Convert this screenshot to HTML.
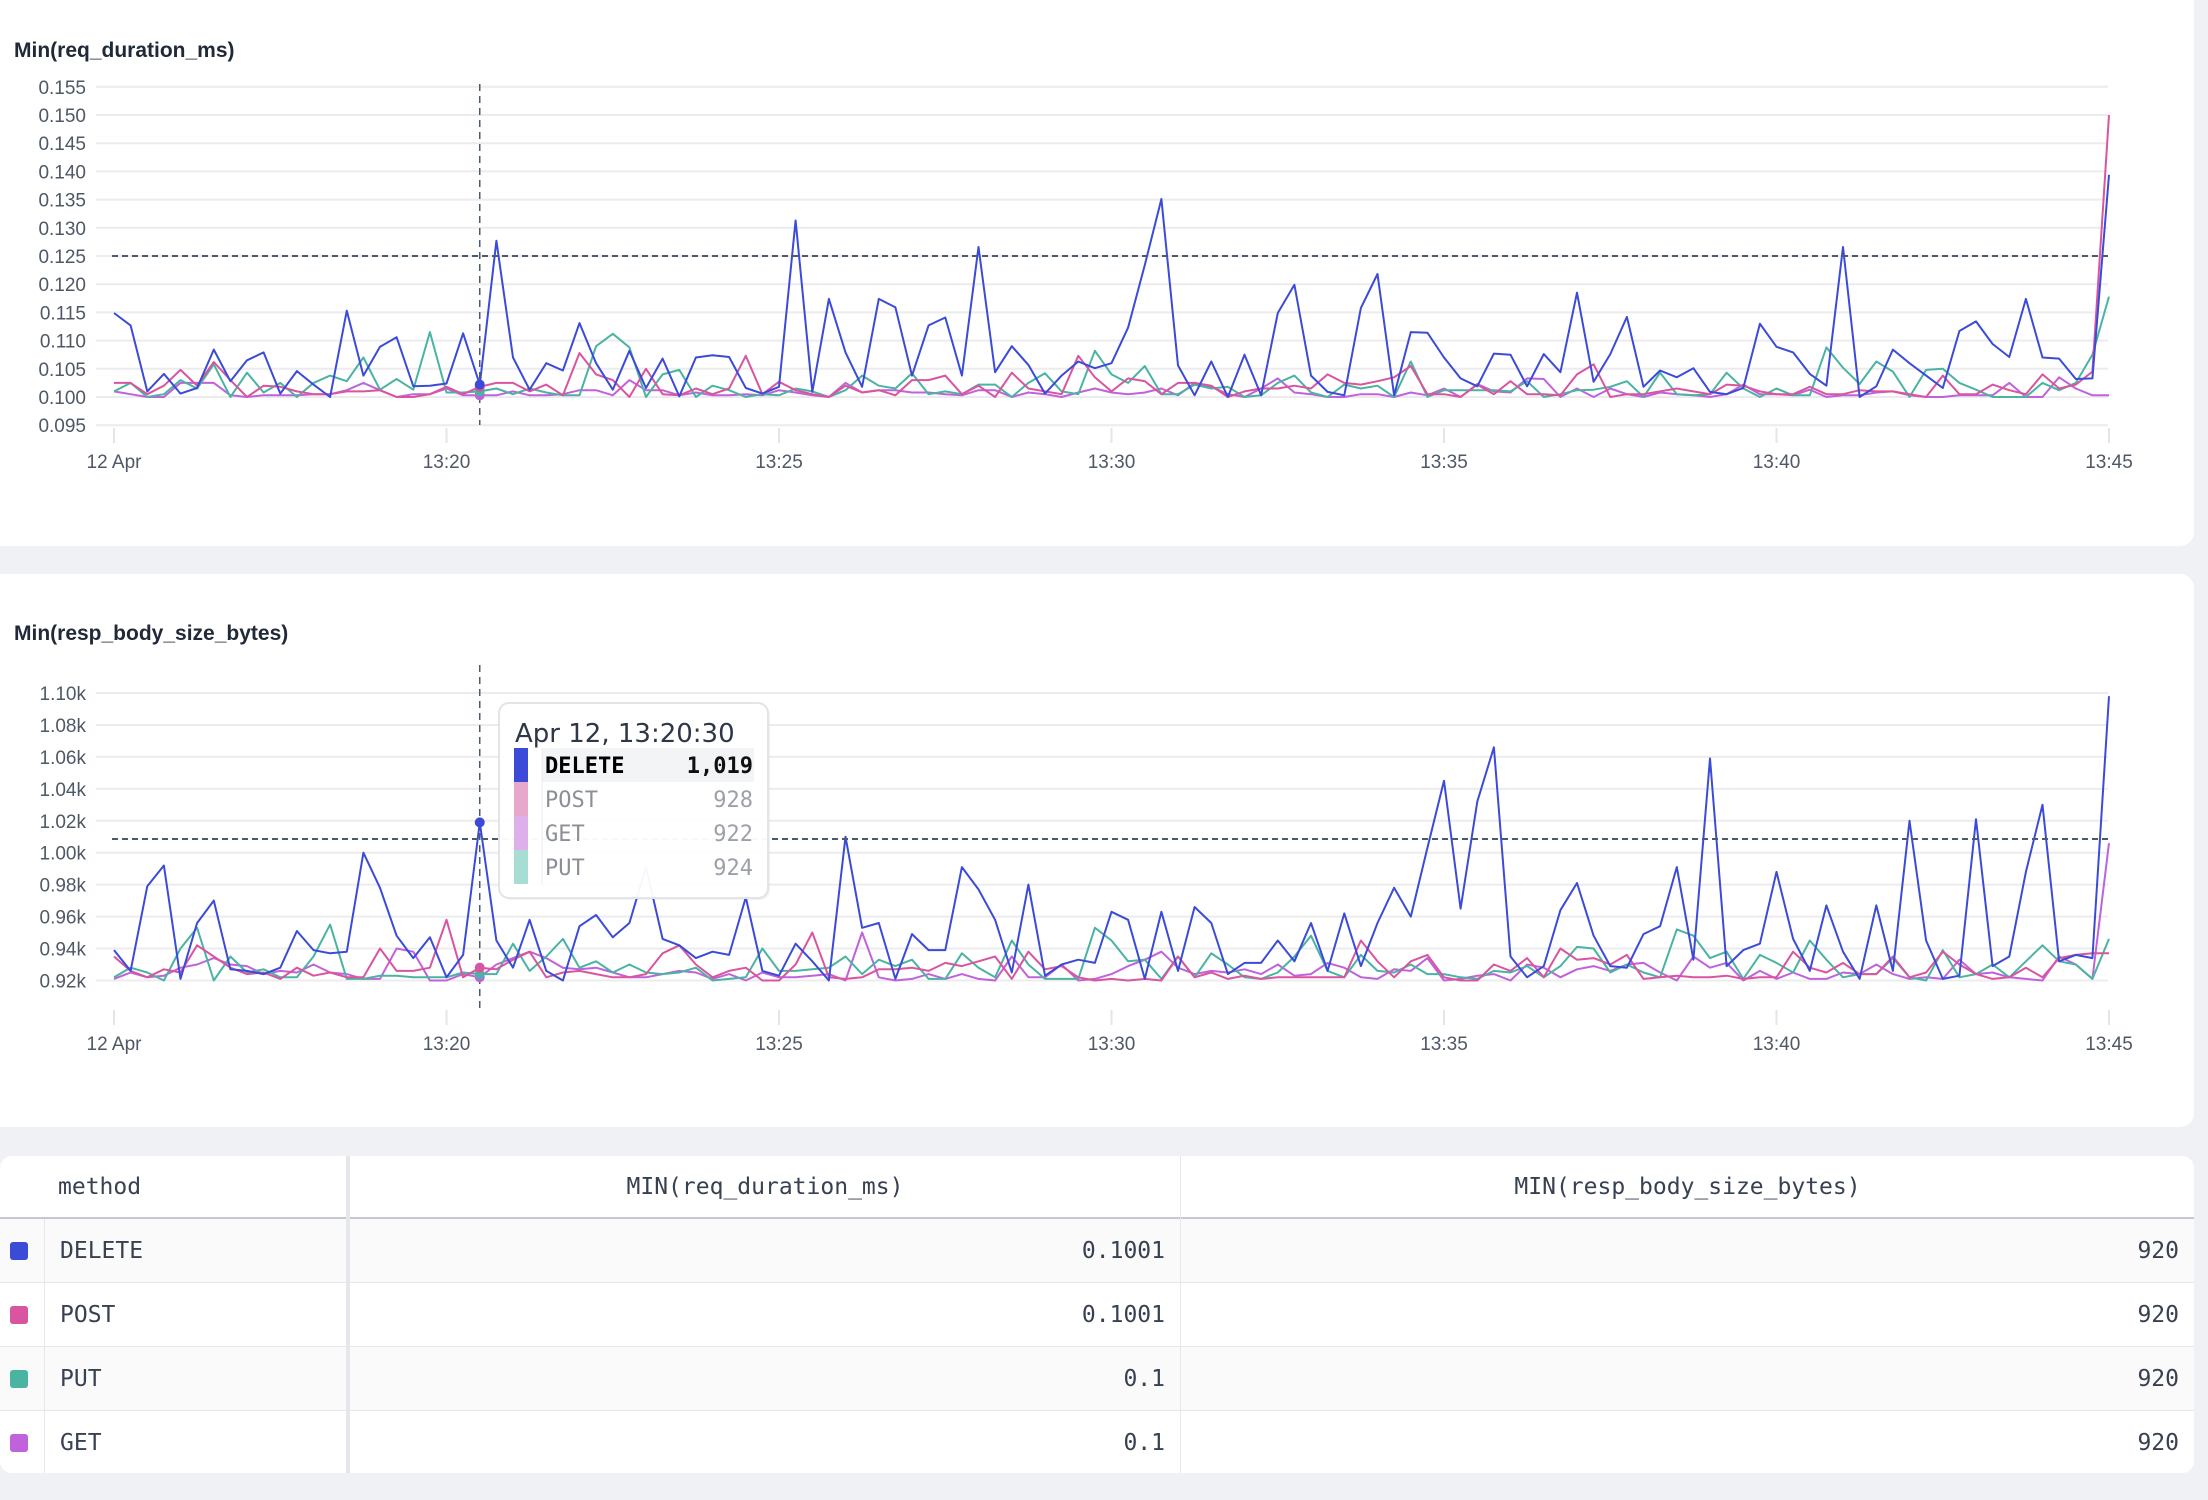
<!DOCTYPE html>
<html><head><meta charset="utf-8">
<style>
html,body{margin:0;padding:0;}
body{width:2208px;height:1500px;background:#f0f1f4;position:relative;overflow:hidden;font-family:"Liberation Sans",sans-serif;}
.card{position:absolute;background:#fff;border-radius:14px;}
svg{position:absolute;left:0;top:0;}
.tbl{position:absolute;left:0;top:1156px;width:2194px;height:317px;background:#fff;border-radius:12px;overflow:hidden;font-family:"DejaVu Sans Mono","Liberation Mono",monospace;font-size:23px;color:#374151;}
.cell{position:absolute;box-sizing:border-box;display:flex;align-items:center;}
</style></head>
<body>
<div class="card" style="left:-14px;top:-20px;width:2208px;height:566px;"></div>
<div class="card" style="left:-14px;top:574px;width:2208px;height:553px;"></div>
<svg id="chart" width="2208" height="1150"></svg>

<div class="tbl" id="tbl"></div>

<script>
// ---- time axis ----
const tickLabels = ["12 Apr","13:20","13:25","13:30","13:35","13:40","13:45"];
const tickMinutes = [0,5,10,15,20,25,30];
const seriesNames = ["DELETE","POST","PUT","GET"];
const seriesColors = ["#3b4bd8","#d9559f","#4ab3a2","#c062db"];

// ---- chart 1: Min(req_duration_ms) ----
const c1Ticks = [0.095,0.100,0.105,0.110,0.115,0.120,0.125,0.130,0.135,0.140,0.145,0.150,0.155];
const c1Threshold = 0.125;
const c1Delete = [0.1149,0.1127,0.1010,0.1041,0.1006,0.1016,0.1084,0.1028,0.1065,0.1079,0.1006,0.1046,0.1022,0.1000,0.1153,0.1038,0.1089,0.1106,0.1019,0.1020,0.1024,0.1113,0.1022,0.1277,0.1070,0.1013,0.1060,0.1047,0.1131,0.1060,0.1013,0.1082,0.1016,0.1068,0.1001,0.1070,0.1074,0.1071,0.1016,0.1006,0.1018,0.1313,0.1009,0.1174,0.1079,0.1018,0.1174,0.1159,0.1038,0.1127,0.1141,0.1038,0.1266,0.1044,0.1090,0.1057,0.1006,0.1038,0.1063,0.1051,0.1060,0.1123,0.1234,0.1351,0.1056,0.1003,0.1063,0.1000,0.1075,0.1003,0.1149,0.1199,0.1038,0.1009,0.1003,0.1158,0.1218,0.1003,0.1115,0.1114,0.1070,0.1033,0.1019,0.1077,0.1075,0.1019,0.1076,0.1044,0.1185,0.1027,0.1076,0.1142,0.1018,0.1047,0.1035,0.1051,0.1009,0.1005,0.1016,0.1130,0.1089,0.1079,0.1041,0.1020,0.1266,0.1000,0.1019,0.1084,0.1060,0.1038,0.1016,0.1117,0.1134,0.1094,0.1071,0.1174,0.1070,0.1068,0.1032,0.1033,0.1394];
const c1Post = [0.1025,0.1025,0.1005,0.102,0.1048,0.102,0.1062,0.103,0.100,0.102,0.1018,0.101,0.1005,0.1005,0.101,0.101,0.1012,0.100,0.100,0.1005,0.1018,0.1005,0.1018,0.1025,0.1025,0.101,0.1022,0.1003,0.1078,0.104,0.103,0.100,0.105,0.1005,0.1003,0.1015,0.1005,0.1015,0.1073,0.1005,0.1027,0.1012,0.1005,0.1,0.102,0.1008,0.1012,0.1003,0.103,0.103,0.1038,0.1005,0.102,0.1,0.1043,0.1015,0.101,0.1005,0.1073,0.1035,0.101,0.1033,0.1028,0.1005,0.1025,0.1025,0.102,0.1,0.101,0.1015,0.1015,0.102,0.1015,0.104,0.1025,0.1022,0.1028,0.1035,0.1055,0.1005,0.1005,0.1,0.1022,0.1005,0.1028,0.1005,0.1005,0.1003,0.104,0.1058,0.1,0.1005,0.1005,0.101,0.1015,0.101,0.1005,0.1022,0.102,0.101,0.1005,0.1005,0.1018,0.1005,0.1005,0.1012,0.101,0.101,0.1005,0.1,0.1038,0.1005,0.1005,0.1022,0.1012,0.1005,0.104,0.1015,0.1022,0.1045,0.150];
const c1Put = [0.101,0.1025,0.1,0.1005,0.103,0.1015,0.1058,0.1,0.1043,0.1008,0.1025,0.1,0.1025,0.1038,0.1028,0.107,0.1013,0.1032,0.1013,0.1115,0.1008,0.1008,0.101,0.1015,0.1005,0.1015,0.1008,0.1003,0.1003,0.109,0.1112,0.1088,0.1,0.104,0.1048,0.1,0.102,0.1012,0.1,0.1005,0.1003,0.1015,0.101,0.1,0.1012,0.1038,0.102,0.1015,0.1042,0.1005,0.101,0.1005,0.1022,0.1022,0.1,0.1025,0.1042,0.101,0.1005,0.1082,0.104,0.1025,0.1055,0.1005,0.1005,0.1022,0.1015,0.1018,0.1,0.1003,0.1025,0.1038,0.1008,0.1,0.1022,0.1015,0.102,0.1,0.1063,0.1,0.1012,0.1012,0.1012,0.1012,0.101,0.1028,0.1,0.1005,0.1012,0.1013,0.1018,0.1028,0.1,0.1043,0.1005,0.1003,0.1005,0.1043,0.1015,0.1,0.1015,0.1003,0.1003,0.1088,0.1052,0.1023,0.1063,0.1045,0.1,0.1048,0.105,0.1025,0.1013,0.1,0.1,0.1,0.1025,0.1012,0.1025,0.1075,0.1178];
const c1Get = [0.101,0.1005,0.1,0.1,0.1025,0.1025,0.1025,0.1003,0.1,0.1003,0.1003,0.1003,0.1005,0.1005,0.1012,0.1025,0.1012,0.1,0.1005,0.1005,0.1015,0.1003,0.1003,0.1003,0.101,0.1003,0.1003,0.1005,0.1012,0.1012,0.1003,0.103,0.1012,0.1012,0.1003,0.1008,0.1003,0.1003,0.1005,0.1003,0.1012,0.1008,0.1003,0.1,0.1025,0.1008,0.1012,0.1012,0.1008,0.1008,0.1005,0.1003,0.1012,0.1012,0.1,0.1008,0.1005,0.1,0.1008,0.1015,0.1008,0.1005,0.1008,0.1015,0.1003,0.1025,0.1018,0.1005,0.1,0.1015,0.1033,0.1008,0.1005,0.1,0.1,0.1005,0.1005,0.1,0.1008,0.1003,0.1015,0.1,0.1023,0.101,0.1008,0.1033,0.1032,0.1,0.1015,0.1,0.1015,0.1005,0.1,0.1008,0.1005,0.1003,0.1,0.1005,0.1022,0.1005,0.1005,0.1003,0.1013,0.1,0.1003,0.1003,0.1008,0.101,0.1003,0.1,0.1,0.1003,0.1003,0.1003,0.1025,0.1,0.1,0.1035,0.1015,0.1003,0.1003];

// ---- chart 2: Min(resp_body_size_bytes) ----
const c2Ticks = [920,940,960,980,1000,1020,1040,1060,1080,1100];
const c2TickLabels = ["0.92k","0.94k","0.96k","0.98k","1.00k","1.02k","1.04k","1.06k","1.08k","1.10k"];
const c2Threshold = 1008.6;
const c2Delete = [939,926,979,992,921,956,970,927,926,924,928,951,939,937,938,1000,978,948,934,947,922,936,1019,945,928,958,926,920,954,961,947,956,991,946,942,934,938,936,972,926,923,943,932,920,1010,953,956,921,949,939,939,991,977,958,925,980,923,930,933,931,963,958,921,963,926,966,956,924,931,931,945,932,956,926,962,929,956,978,960,1003,1045,965,1032,1066,935,922,929,964,981,948,929,928,949,954,991,933,1059,929,939,943,988,946,926,967,938,921,967,926,1020,945,921,923,1021,929,935,988,1030,932,936,934,1098];
const c2Post = [935,926,922,927,925,942,935,928,924,925,921,928,923,925,922,922,940,926,926,928,958,922,928,927,933,938,922,925,926,924,922,922,924,937,942,930,922,926,928,920,920,930,950,922,921,922,927,927,928,926,931,929,932,935,921,938,927,929,922,920,921,920,921,920,935,922,925,921,923,921,922,922,922,922,922,945,932,922,932,936,922,920,920,930,926,934,922,940,933,934,930,936,921,922,923,922,922,923,921,922,922,938,928,925,931,924,924,935,922,925,938,930,924,921,922,928,922,934,936,937,937];
const c2Put = [922,928,925,920,940,953,920,935,925,927,922,922,935,955,921,921,923,923,922,922,922,925,924,924,943,926,935,946,928,932,925,930,925,924,925,928,920,921,922,940,926,926,927,928,935,924,933,929,933,921,921,937,928,922,945,930,921,921,921,953,945,932,933,921,935,922,937,930,922,921,925,935,948,926,922,936,926,925,930,924,924,922,921,926,925,929,922,929,941,940,925,930,925,922,952,948,934,938,921,936,931,925,945,933,922,924,924,934,922,920,939,922,924,930,922,932,942,932,930,921,946];
const c2Get = [921,925,922,923,928,930,934,930,929,924,926,925,930,925,924,921,921,940,938,920,920,924,922,930,934,938,934,928,927,928,925,922,922,924,926,925,921,924,920,925,922,922,923,924,920,950,922,920,921,924,921,924,921,920,935,922,922,930,920,921,924,929,933,938,928,924,926,925,927,924,930,923,924,931,928,922,921,927,926,934,920,921,923,924,920,930,928,922,927,929,926,930,931,925,920,935,928,931,920,926,921,925,921,921,925,924,930,924,921,922,921,933,924,925,922,921,920,935,930,921,1006];

// ---- tooltip / table ----
const hoverIndex = 22;
const tipTitle = "Apr 12, 13:20:30";
const tipNames = ["DELETE","POST","GET","PUT"];
const tipValues = ["1,019","928","922","924"];
const tipColors = ["#3b4bd8","#e8a8cc","#ddb0ec","#a8ddd3"];
const tableMethods = ["DELETE","POST","PUT","GET"];
const tableDur = ["0.1001","0.1001","0.1","0.1"];
const tableSize = ["920","920","920","920"];
const tableColors = ["#3b4bd8","#d9559f","#4ab3a2","#c062db"];

const NS="http://www.w3.org/2000/svg";
const svg=document.getElementById('chart');
function el(tag,attrs,parent){const e=document.createElementNS(NS,tag);for(const k in attrs)e.setAttribute(k,attrs[k]);(parent||svg).appendChild(e);return e;}
const X0=114, X1=2109, NPTS=120;
function xIdx(i){return X0+i*(X1-X0)/NPTS;}
function xMin(m){return X0+m*(X1-X0)/30;}
function y1(v){return 86.8+(0.155-v)/0.005*28.2;}
function y2(v){return 693+(1100-v)/20*31.94;}

function drawChart(id,title,titleY,ticks,tickLabels2,yf,tickTop,tickBot,labelY,thr,vTop,vBot,series){
  const g=el('g',{});
  
  
  const t=el('text',{x:14,y:titleY,'font-size':21,'font-weight':600,fill:'#1f2937','font-family':'Liberation Sans, sans-serif'},g);
  t.textContent=title;
  
  
  ticks.forEach((v,k)=>{
    const y=yf(v);
    const ln=el('line',{x1:96,x2:2108,y1:y,y2:y,stroke:'#ececee','stroke-width':2},g);
    
    
    const lb=el('text',{x:86,y:y+7,'font-size':19,fill:'#4f5866','text-anchor':'end','font-family':'Liberation Sans, sans-serif'},g);
    lb.textContent=tickLabels2?tickLabels2[k]:v.toFixed(3);
    
    
  });
  tickMinutes.forEach((m,k)=>{
    const x=xMin(m);
    const tk=el('line',{x1:x,x2:x,y1:tickTop,y2:tickBot,stroke:'#e3e5e8','stroke-width':2},g);
    
    
    const lb=el('text',{x:x,y:labelY+7,'font-size':19,fill:'#4f5866','text-anchor':'middle','font-family':'Liberation Sans, sans-serif'},g);
    lb.textContent=tickLabels[k];
    
    
  });
  for(let s=series.length-1;s>=0;s--){
    const d=series[s].map((v,i)=>(i?'L':'M')+xIdx(i).toFixed(1)+' '+yf(v).toFixed(1)).join(' ');
    const p=el('path',{d:d,fill:'none',stroke:seriesColors[s],'stroke-width':2,'stroke-linejoin':'round'},g);
    
    
  }
  const th=el('line',{x1:112,x2:2108,y1:yf(thr),y2:yf(thr),stroke:'#4b5b6e','stroke-width':2,'stroke-dasharray':'6 4'},g);
  
  
  const xh=xIdx(hoverIndex);
  const vl=el('line',{x1:xh,x2:xh,y1:vTop,y2:vBot,stroke:'#4b5b6e','stroke-width':1.5,'stroke-dasharray':'7 5'},g);
  
  
  for(let s=series.length-1;s>=0;s--){
    const c=el('circle',{cx:xh,cy:yf(series[s][hoverIndex]),r:5,fill:seriesColors[s]},g);
    
    
  }
}
drawChart('req-duration-chart','Min(req_duration_ms)',57,c1Ticks,null,y1,428,443,461,c1Threshold,84,425,[c1Delete,c1Post,c1Put,c1Get]);
drawChart('resp-size-chart','Min(resp_body_size_bytes)',640,c2Ticks,c2TickLabels,y2,1010,1025,1043,c2Threshold,665,1008,[c2Delete,c2Post,c2Put,c2Get]);

// tooltip
const tip=el('g',{});


el('rect',{x:501,y:705,width:269,height:195,rx:10,fill:'#000',opacity:0.05},tip);
el('rect',{x:499,y:703,width:269,height:195,rx:10,fill:'#fff','fill-opacity':0.96,stroke:'#e2e4e8','stroke-width':2},tip);
const tt=el('text',{x:515,y:742,'font-size':26,fill:'#2d3748','font-family':'DejaVu Sans, Liberation Sans, sans-serif'},tip);
tt.textContent=tipTitle;


el('rect',{x:542,y:748,width:212,height:34,fill:'#f3f4f6'},tip);
el('line',{x1:542,x2:542,y1:748,y2:884,stroke:'#e8e8f4','stroke-width':1},tip);
tipNames.forEach((n,k)=>{
  const y=748+k*34;
  const r=el('rect',{x:514,y:y,width:14,height:34,fill:tipColors[k]},tip);
  
  
  const a=el('text',{x:545,y:y+25,'font-size':22,fill:k?'#8b8f96':'#000','font-weight':k?400:700,'font-family':'DejaVu Sans Mono, Liberation Mono, monospace'},tip);
  a.textContent=n;
  
  
  const b=el('text',{x:753,y:y+25,'font-size':22,fill:k?'#9ca0a8':'#111','font-weight':k?400:700,'text-anchor':'end','font-family':'DejaVu Sans Mono, Liberation Mono, monospace'},tip);
  b.textContent=tipValues[k];
  
  
});

// table
const tbl=document.getElementById('tbl');
function cell(x,y,w,h,txt,style,name){
  const d=document.createElement('div');
  d.className='cell';
  d.style.cssText=`left:${x}px;top:${y}px;width:${w}px;height:${h}px;`+style;
  d.textContent=txt;
  
  
  tbl.appendChild(d);
  return d;
}
cell(0,0,346,61,'method','padding-left:58px;','header-method');
cell(350,0,830,61,'MIN(req_duration_ms)','justify-content:center;','header-req-duration');
cell(1181,0,1013,61,'MIN(resp_body_size_bytes)','justify-content:center;','header-resp-size');
cell(0,61,2194,2,'','background:#c4c8cf;','header-border');
tableMethods.forEach((m,k)=>{
  const top=63+k*64;
  const bg=k%2===0?'#fafafa':'#fff';
  const row=cell(0,top,2194,63,'','background:'+bg+';','table-row');
  
  cell(10,top+23,18,18,'','background:'+tableColors[k]+';border-radius:3px;','method-swatch');
  cell(60,top,286,63,m,'','method-cell');
  cell(350,top,815,63,tableDur[k],'justify-content:flex-end;','req-duration-cell');
  cell(1181,top,998,63,tableSize[k],'justify-content:flex-end;','resp-size-cell');
  if(k<3) cell(0,top+63,2194,1,'','background:#e6e7ea;','row-border');
});
cell(44,63,1,254,'','background:#e6e7ea;','swatch-divider');
cell(346,0,4,317,'','background:#e6e7ea;','method-divider');
cell(1180,0,1,317,'','background:#e6e7ea;','column-divider');
</script>
</body></html>
